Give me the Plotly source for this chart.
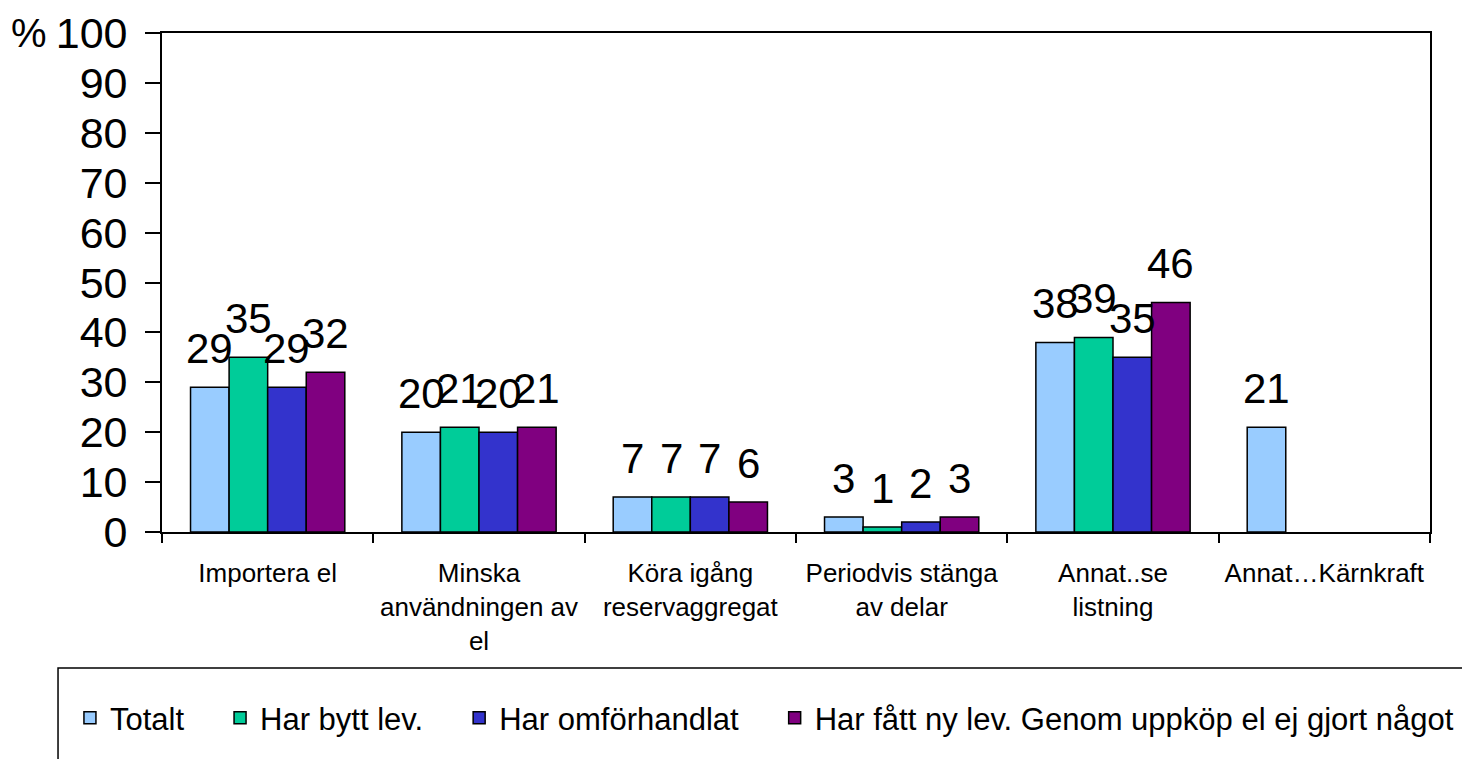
import plotly.graph_objects as go

categories = [
    "Importera el",
    "Minska<br>användningen av<br>el",
    "Köra igång<br>reservaggregat",
    "Periodvis stänga<br>av delar",
    "Annat..se<br>listning",
    "Annat…Kärnkraft",
]

series_names = [
    "Totalt",
    "Har bytt lev.",
    "Har omförhandlat",
    "Har fått ny lev. Genom uppköp el ej gjort något",
]
totalt = [29, 20, 7, 3, 38, 21]
har_bytt = [35, 21, 7, 1, 39, None]
har_omforhandlat = [29, 20, 7, 2, 35, None]
har_fatt_ny = [32, 21, 6, 3, 46, None]

y_ticks = [0, 10, 20, 30, 40, 50, 60, 70, 80, 90, 100]

colors = ["#99CCFF", "#00CC99", "#3333CC", "#800080"]
font_family = "Arial, 'Liberation Sans', sans-serif"

# page body adds an 8px margin, so the figure is a bit smaller than the window
W, H = 1462, 751
M_L, M_R, M_T, M_B = 154, 40, 25, 227
BARGAP = 0.27
plot_w = W - M_L - M_R
bar_px = plot_w / len(categories) * (1 - BARGAP) / len(series_names)

fig = go.Figure()

all_series = [totalt, har_bytt, har_omforhandlat, har_fatt_ny]
for k, (name, values, color) in enumerate(zip(series_names, all_series, colors)):
    # extra spacing between legend entries, as in the original
    legend_name = name + ("\u2002\u2002" if k < len(series_names) - 1 else "")
    fig.add_trace(go.Bar(
        name=legend_name,
        x=categories,
        y=values,
        marker=dict(color=color, line=dict(color="black", width=1.5)),
        cliponaxis=False,
    ))
    # value labels above each bar
    for cat, v in zip(categories, values):
        if v is None:
            continue
        fig.add_annotation(
            x=cat, y=v, xref="x", yref="y",
            text=str(v), showarrow=False,
            xanchor="center", yanchor="bottom",
            xshift=(k - (len(series_names) - 1) / 2) * bar_px,
            yshift=13,
            font=dict(size=42, color="black", family=font_family),
        )

# legend frame: starts left of the plot and runs off the page
fig.add_shape(
    type="rect", xref="paper", yref="paper",
    x0=-0.082, x1=1.2, y0=-0.2725, y1=-0.7,
    line=dict(color="black", width=1.5), fillcolor="rgba(0,0,0,0)",
)

fig.add_annotation(
    text="%", xref="paper", yref="paper", x=-0.1045, y=1.0,
    xanchor="center", yanchor="middle", showarrow=False,
    font=dict(size=40, color="black", family=font_family),
)

fig.update_layout(
    width=W,
    height=H,
    margin=dict(l=M_L, r=M_R, t=M_T, b=M_B, autoexpand=False),
    plot_bgcolor="white",
    paper_bgcolor="white",
    font=dict(family=font_family, color="black"),
    barmode="group",
    bargap=BARGAP,
    bargroupgap=0,
    showlegend=True,
    legend=dict(
        orientation="h",
        x=-0.0726, xanchor="left",
        y=-0.3727, yanchor="middle",
        font=dict(size=31, color="black", family=font_family),
        bgcolor="rgba(0,0,0,0)",
        borderwidth=0,
        traceorder="normal",
    ),
    xaxis=dict(
        automargin=False,
        showline=True, linecolor="black", linewidth=1.8, mirror=True,
        ticks="outside", ticklen=9, tickwidth=1.5, tickcolor="black",
        tickson="boundaries",
        ticklabelstandoff=17,
        tickfont=dict(size=26, color="black", family=font_family),
        showgrid=False,
    ),
    yaxis=dict(
        automargin=False,
        range=[0, 100],
        tickvals=y_ticks,
        showline=True, linecolor="black", linewidth=1.8, mirror=True,
        ticks="outside", ticklen=15, tickwidth=1.5, tickcolor="black",
        ticklabelstandoff=9,
        tickfont=dict(size=43, color="black", family=font_family),
        showgrid=False, zeroline=False,
    ),
)

fig.write_html("out.html")
